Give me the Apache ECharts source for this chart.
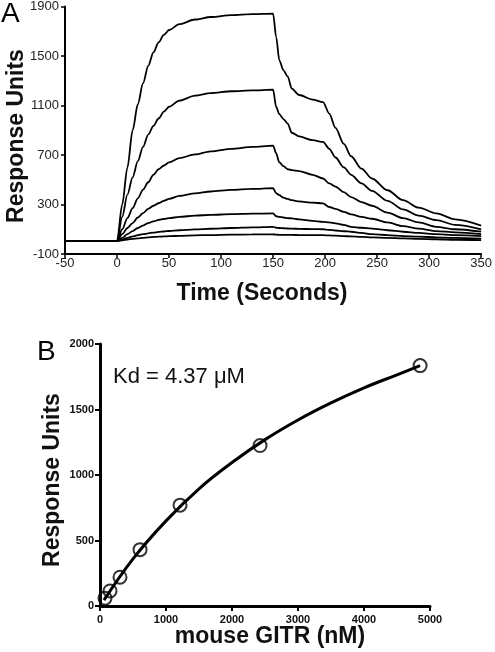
<!DOCTYPE html>
<html><head><meta charset="utf-8">
<script src="https://cdn.jsdelivr.net/npm/echarts@6/dist/echarts.min.js"></script>
<style>html,body{margin:0;padding:0;background:#fff}#c{width:495px;height:652px}</style>
</head><body><div id="c"></div>
<script>
// Panel A: sensorgram time points (s)
var timeA = [-50,0,5,10,15,20,25,30,35,40,45,50,60,75,90,110,130,150,153,156,160,164,168,175,188,198,204,210,218,225,235,245,260,275,290,307,325,350];
var curve1 = [5,5,300,600,900,1110,1280,1420,1530,1610,1670,1710,1757,1795,1815,1830,1838,1842,1652,1465,1384,1335,1236,1185,1148,1128,1035,920,790,690,590,510,415,335,275,228,180,130];
var curve2 = [5,5,200,380,520,650,765,865,935,995,1050,1090,1140,1180,1200,1215,1222,1228,1088,1030,990,954,880,850,820,806,750,680,600,540,470,410,330,260,210,174,135,99];
var curve3 = [5,5,100,190,270,350,420,480,540,585,615,640,675,705,730,750,765,775,712,640,610,585,577,570,540,510,470,445,400,360,320,290,235,190,155,120,100,80];
var curve4 = [5,5,60,110,150,195,230,265,290,310,330,345,370,390,405,418,426,432,390,375,355,345,335,325,315,309,280,265,240,220,200,185,155,125,105,85,75,60];
var curve5 = [5,5,30,60,85,110,130,150,163,175,183,190,200,210,216,222,226,228,205,200,195,190,188,180,168,160,155,148,135,120,112,105,92,80,70,60,52,45];
var curve6 = [5,5,15,30,42,52,60,67,73,78,82,86,92,99,104,110,115,120,112,110,108,106,105,103,101,100,95,90,84,80,70,60,52,45,40,35,30,25];
var curve7 = [5,5,10,17,22,27,31,35,38,40,42,44,47,51,53,56,58,59,56,55,55,54,54,53,53,52,50,48,45,42,38,35,30,26,22,19,15,12];
var yTicksA = [-100,300,700,1100,1500,1900];

// Panel B: steady-state binding
var concB = [76,152,303,607,1213,2425,4850];
var respB = [60,115,220,430,770,1225,1835];
var fitX = [60,500,1000,1500,2000,2500,3000,3500,4000,4500,4850];
var fitY = [45,360,650,895,1095,1270,1420,1550,1665,1765,1835];

function pairs(xs, ys){ return xs.map(function(x,i){ return [x, ys[i]]; }); }
function plain(v){ return String(v); }

var chart = echarts.init(document.getElementById('c'), null, {renderer:'canvas'});
var curvesA = [curve1,curve2,curve3,curve4,curve5,curve6,curve7];
var seriesA = curvesA.map(function(c){
  return {type:'line', xAxisIndex:0, yAxisIndex:0, data:pairs(timeA,c), showSymbol:false,
    smooth:0.3, smoothMonotone:'x', lineStyle:{color:'#000', width:1.8}, silent:true};
});
var fontF = '"Liberation Sans", Arial, Helvetica, sans-serif';
chart.setOption({
  animation:false,
  backgroundColor:'#fff',
  grid:[
    {left:65, top:6, width:420, height:248},
    {left:100, top:344, width:330, height:262}
  ],
  xAxis:[
    {type:'value', gridIndex:0, min:-50, max:350, interval:50,
     axisLine:{onZero:false, lineStyle:{color:'#000', width:2}},
     axisTick:{length:4, lineStyle:{color:'#000', width:1.5}},
     axisLabel:{color:'#222', fontSize:13, fontFamily:fontF, margin:3, formatter:plain},
     splitLine:{show:false}},
    {type:'value', gridIndex:1, min:0, max:5000, interval:1000,
     axisLine:{onZero:false, lineStyle:{color:'#000', width:3}},
     axisTick:{length:5, lineStyle:{color:'#000', width:2}},
     axisLabel:{color:'#111', fontSize:11, fontWeight:'bold', fontFamily:fontF, margin:8, formatter:plain},
     splitLine:{show:false}}
  ],
  yAxis:[
    {type:'value', gridIndex:0, min:-100, max:1900,
     axisLine:{show:true, onZero:false, lineStyle:{color:'#000', width:2}},
     axisTick:{show:true, length:4, customValues:yTicksA, lineStyle:{color:'#000', width:1.5}},
     axisLabel:{color:'#222', fontSize:13, fontFamily:fontF, margin:6, customValues:yTicksA, formatter:plain},
     splitLine:{show:false}},
    {type:'value', gridIndex:1, min:0, max:2000, interval:500,
     axisLine:{show:true, onZero:false, lineStyle:{color:'#000', width:3}},
     axisTick:{show:true, length:5, lineStyle:{color:'#000', width:2}},
     axisLabel:{color:'#111', fontSize:11, fontWeight:'bold', fontFamily:fontF, margin:6, formatter:plain},
     splitLine:{show:false}}
  ],
  graphic:[
    {type:'text', left:1, top:0, style:{text:'A', font:'28px '+fontF, fill:'#000'}},
    {type:'text', left:37, top:338, style:{text:'B', font:'28px '+fontF, fill:'#000'}},
    {type:'text', x:17, y:136, rotation:Math.PI/2, style:{text:'Response Units', font:'bold 23px '+fontF, fill:'#111', align:'center', verticalAlign:'middle'}},
    {type:'text', x:262, y:294, style:{text:'Time (Seconds)', font:'bold 23px '+fontF, fill:'#111', align:'center', verticalAlign:'middle'}},
    {type:'text', x:53, y:480, rotation:Math.PI/2, style:{text:'Response Units', font:'bold 23px '+fontF, fill:'#111', align:'center', verticalAlign:'middle'}},
    {type:'text', x:270, y:637, style:{text:'mouse GITR (nM)', font:'bold 23px '+fontF, fill:'#111', align:'center', verticalAlign:'middle'}},
    {type:'text', x:113, y:377, style:{text:'Kd = 4.37 \u03bcM', font:'22px '+fontF, fill:'#111', align:'left', verticalAlign:'middle'}}
  ],
  series: seriesA.concat([
    {type:'line', xAxisIndex:1, yAxisIndex:1, data:pairs(fitX,fitY), showSymbol:false, smooth:0.4,
     lineStyle:{color:'#000', width:3}, silent:true},
    {type:'scatter', xAxisIndex:1, yAxisIndex:1, data:pairs(concB,respB), symbol:'circle', symbolSize:13,
     itemStyle:{color:'rgba(0,0,0,0)', borderColor:'#000', borderWidth:2}, silent:true}
  ])
});
</script></body></html>
